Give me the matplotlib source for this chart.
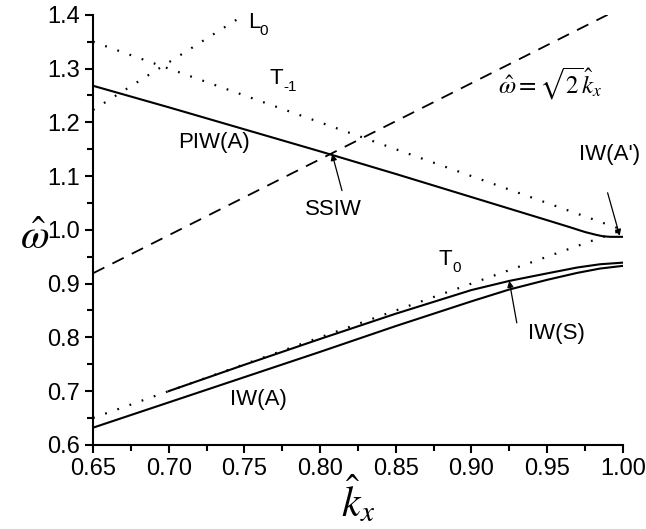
import numpy as np
import matplotlib
matplotlib.use("Agg")
from matplotlib import pyplot as plt
from matplotlib.ticker import MultipleLocator
from matplotlib.transforms import offset_copy

plt.rcParams['font.family'] = ['Liberation Sans', 'DejaVu Sans']
plt.rcParams['mathtext.fontset'] = 'stix'

# dispersion branches
kx_piw = [0.65, 0.70, 0.75, 0.80, 0.85, 0.90, 0.95, 0.965, 0.975, 0.982, 0.987, 0.992, 1.00]
w_piw = [1.268, 1.228, 1.187, 1.146, 1.104, 1.061, 1.018, 1.005, 0.996, 0.991, 0.988, 0.987, 0.987]

kx_iwa = [0.65, 0.70, 0.75, 0.80, 0.85, 0.90, 0.925, 0.95, 0.97, 0.985, 1.00]
w_iwa = [0.632, 0.679, 0.726, 0.773, 0.821, 0.867, 0.889, 0.907, 0.920, 0.928, 0.933]

kx_iws = [0.70, 0.75, 0.80, 0.85, 0.90, 0.925, 0.95, 0.97, 0.985, 1.00]
w_iws = [0.700, 0.749, 0.797, 0.844, 0.888, 0.905, 0.919, 0.930, 0.936, 0.939]

# light lines
kx_t0 = [0.65, 1.00]
w_t0 = [0.65, 1.00]
kx_tm1 = [0.65, 1.00]
w_tm1 = [1.35, 1.00]
kx_l0 = [0.65, 0.75]
w_l0 = [1.223, 1.40]
kx_sq = [0.65, 0.99]
w_sq = [np.sqrt(2) * k for k in kx_sq]

fig = plt.figure(figsize=(6.46, 5.29), dpi=100)
ax = fig.add_axes([0.144, 0.159, 0.820, 0.813])

dot = (0, (0.8, 5))
ax.plot(kx_l0, w_l0, color='k', lw=1.6, linestyle=dot)
ax.plot(kx_tm1, w_tm1, color='k', lw=1.6, linestyle=dot)
ax.plot(kx_t0, w_t0, color='k', lw=1.6, linestyle=dot)
ax.plot(kx_sq, w_sq, color='k', lw=1.3, linestyle=(0, (7, 5)))
ax.plot(kx_piw, w_piw, color='k', lw=1.5)
ax.plot(kx_iwa, w_iwa, color='k', lw=1.5)
ax.plot(kx_iws, w_iws, color='k', lw=1.5)

ax.set_xlim(0.65, 1.00)
ax.set_ylim(0.6, 1.4)
ax.xaxis.set_major_locator(MultipleLocator(0.05))
ax.xaxis.set_minor_locator(MultipleLocator(0.025))
ax.yaxis.set_major_locator(MultipleLocator(0.1))
ax.yaxis.set_minor_locator(MultipleLocator(0.05))
ax.xaxis.set_major_formatter(plt.FuncFormatter(lambda v, p: f"{v:.2f}"))
ax.yaxis.set_major_formatter(plt.FuncFormatter(lambda v, p: f"{v:.1f}"))
for s in ['top', 'right']:
    ax.spines[s].set_visible(False)
for s in ['left', 'bottom']:
    ax.spines[s].set_linewidth(1.5)
ax.tick_params(which='major', direction='out', length=6, width=1.5, labelsize=17)
ax.tick_params(which='minor', direction='out', length=4, width=1.5)

ax.set_xlabel(r'$\hat{k}_x$', fontsize=30, labelpad=-5)
ax.set_ylabel(r'$\hat{\omega}$', fontsize=30, rotation=0, ha='center', va='center')
ax.yaxis.set_label_coords(-0.11, 0.48)

fs = 16


def sublabel(x, y, main, sub, dx):
    # letter plus a small lowered index, both in the sans font
    ax.text(x, y, main, fontsize=fs, va='baseline')
    tr = offset_copy(ax.transData, fig=fig, x=dx, y=-5, units='points')
    ax.text(x, y, sub, fontsize=11, va='baseline', transform=tr)


sublabel(0.7524, 1.376, 'L', '0', 8.5)
sublabel(0.7669, 1.2716, 'T', '-1', 9.5)
sublabel(0.878, 0.935, 'T', '0', 10)

ax.text(0.730, 1.162, 'PIW(A)', fontsize=fs, ha='center', va='center')
ax.text(0.759, 0.684, 'IW(A)', fontsize=fs, ha='center', va='center')
ax.text(0.9525, 1.272, r'$\hat{\omega}=\sqrt{2}\hat{k}_x$', fontsize=18, ha='center', va='center')

arrow = dict(arrowstyle='-|>', lw=0.9, color='k', mutation_scale=9, shrinkA=0, shrinkB=0)
ax.text(0.8085, 1.037, 'SSIW', fontsize=fs, ha='center', va='center')
ax.annotate('', xy=(0.808, 1.141), xytext=(0.8145, 1.073), arrowprops=arrow)
ax.text(0.956, 0.808, 'IW(S)', fontsize=fs, ha='center', va='center')
ax.annotate('', xy=(0.925, 0.905), xytext=(0.93, 0.827), arrowprops=arrow)
ax.text(0.991, 1.141, "IW(A')", fontsize=fs, ha='center', va='center', clip_on=False)
ax.annotate('', xy=(0.998, 0.989), xytext=(0.990, 1.069), arrowprops=arrow,
            annotation_clip=False)

fig.savefig('out.png', dpi=100)
